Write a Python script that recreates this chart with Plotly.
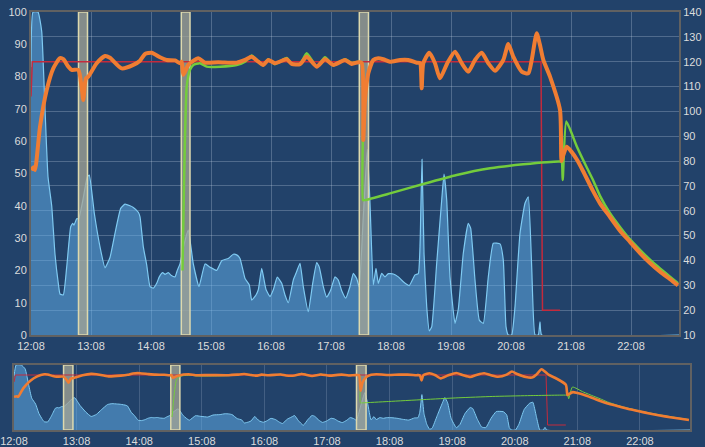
import pandas as pd
import plotly.graph_objects as go

START = pd.Timestamp("2024-01-01 12:08")
END_MIN = 648

# ---- data (minutes after 12:08, values) ----
blue_min = [0, 2, 7, 10.7, 14, 17, 20.7, 24, 27.3, 29, 32.3, 35.7, 39.7, 41.7, 43, 45.7, 47.7,
            52, 56.3, 58.3, 63.3, 69, 74, 79, 84, 89.7, 94, 99, 102.3, 107.3, 109, 112.3, 115.7,
            119, 122.3, 125.7, 128.3, 131.7, 134, 137.3, 140, 144, 146.3, 149, 153, 157.3, 162.3,
            168, 174, 179, 185.7, 190.7, 197.3, 202.3, 205.7, 209, 214, 218.3, 220.7, 225, 227.3,
            230.7, 235, 239, 242.3, 246.3, 250.7, 254, 257.3, 262.3, 265, 269, 272.3, 277.3, 281.7,
            285.7, 288.3, 292.3, 295.7, 299.7, 304, 307.3, 310.7, 314.7, 319, 322.3, 325.7, 328.3,
            332, 336.3, 339, 342.3, 345, 347.3, 350.7, 354, 357.3, 362.3, 367.3, 372.3, 378.3, 384,
            387.3, 389, 391, 393, 395.7, 398.3, 400.7, 405.7, 410.7, 413, 415.7, 419, 424, 427.3,
            432.3, 437.3, 439.7, 444, 448.3, 452.3, 457.3, 462.3, 469, 472.3, 475, 477.3, 480.7,
            484, 489, 494, 497.3, 500.7, 504, 507.3, 509, 510.7, 648]
blue_val = [83, 100, 100, 94, 70, 49, 40, 25, 16, 12.7, 12.4, 21, 33.5, 34.6, 34, 36, 36,
            42, 49, 49.5, 37.7, 27.3, 20.8, 24, 31.5, 39.2, 40.5, 40, 39.5, 38, 36.6, 27.3, 21.7,
            15, 14.5, 16, 18, 19.3, 18.8, 19.3, 18.5, 18, 20, 22, 28, 32.5, 22,
            15, 22, 21, 20, 23, 23.7, 25, 24.8, 23.7, 17.5, 15.5, 10.8, 12.4, 14,
            20.6, 14.1, 11.9, 14, 17.9, 16, 12.4, 10, 17, 19.1, 22.2, 15, 7.2, 16,
            22.4, 21, 15, 11.7, 13.9, 18, 17, 13.7, 11.4, 15, 19.1, 17.5, 14.8,
            35, 57.5, 40.8, 15.5, 20.6, 16, 19.1, 18, 19, 18.9, 18, 16.5, 15.3, 18.6,
            19, 27.3, 54.4, 25.3, 8.8, 1.3, 2.5, 22.2, 41.8, 49.8, 41.8, 18, 3.6, 8,
            25.3, 34.6, 33, 17, 4.6, 3.6, 18, 28.4, 28.2, 23.2, 2.6, 0, 0,
            8.8, 31.5, 40.8, 42.8, 21, 0, 0, 4.1, 0, 0]

orange_min = [0, 2.5, 4, 9, 15.7, 22.3, 29, 32.3, 37.3, 40.7, 47.3, 50.5, 52.3, 54, 55, 57.3,
              65.7, 74, 79, 90.7, 102.3, 109, 114, 120.7, 129, 135.7, 144, 149, 150.7, 152.3,
              157.3, 167.3, 174, 187.3, 205.7, 214, 220.7, 227.3, 232.3, 237.3, 244, 255.7, 260.7,
              269, 275.7, 285.7, 294, 302.3, 314, 320.7, 327.3, 330.7, 332.3, 334, 337.3, 342.3,
              347.3, 352.3, 359, 369, 377.3, 385.7, 389, 390.7, 392.3, 398.3, 404, 409, 416.3,
              424, 430.7, 437.3, 444, 450.7, 457.3, 464, 472.3, 477.3, 482.3, 490.7, 497.3, 500.7,
              505.7, 509, 512.3, 519, 529, 530.5, 532, 535.7, 540, 546, 552, 562, 569, 579, 589,
              599, 609, 619, 629, 639, 647]
orange_val = [76.4, 77.5, 76.4, 93.8, 108.6, 117.3, 121.4, 121, 118, 116.7, 116.7, 110, 104.6,
              111.3, 113.3, 114, 119.4, 122.3, 121.6, 117.3, 118.7, 120.4, 123.1, 123.6, 121.8,
              120.7, 120.5, 119.4, 120, 114.7, 118.7, 121.4, 119.6, 119.8, 119.6, 120.7, 122, 120,
              118.7, 120.7, 119.4, 121, 119.1, 119, 122, 118, 121, 118.7, 120.7, 119.1, 119.8,
              119.5, 88.5, 104.6, 115.3, 120.7, 121.4, 121, 120, 120.7, 120.7, 119.6, 119.4, 109.3,
              119.4, 123.6, 119.4, 113.3, 119.4, 124, 119.4, 116, 120.7, 123.6, 119.4, 116.4,
              120.7, 127.1, 122, 116, 115.3, 120.7, 131.4, 126.7, 120.7, 114, 100.6, 80, 82, 85.8,
              84, 80.5, 76, 68, 63, 57.5, 52, 47.5, 43, 39, 35.5, 32.5, 30]

green_min = [151.5, 153, 155.7, 159, 162.3, 169, 175.7, 189, 205.7, 214, 220.7, 227.3, 232.3,
             237.3, 244, 255.7, 260.7, 269, 275.7, 285.7, 294, 302.3, 314, 320.7, 327.3, 331.3,
             332, 334, 359, 392.3, 425.7, 459, 492.3, 529, 530.8, 531.7, 535.3, 545.7, 555.7,
             562, 569, 579, 589, 599, 609, 619, 629, 639, 647]
green_val = [36, 70, 110, 116.7, 118.7, 119.4, 118, 118, 118.7, 120, 122.5, 120, 118.5, 121,
             119, 121.5, 119, 119, 123.4, 118, 121.8, 118.5, 121, 119.5, 120, 119.5, 64.3, 64.3,
             67, 70.8, 74.4, 77.1, 78.7, 79.8, 79.5, 72.4, 95.9, 86, 77.5, 72.4, 66, 59, 53.5,
             48.5, 44.3, 40.3, 36.8, 33.5, 30.8]

red_min = [0, 1.3, 510, 511.5, 529]
red_val = [106, 120, 120, 20, 20]

band_start = [47.5, 150.3, 328.3]
band_end = [56.5, 159, 337.5]

hour_ticks = list(range(0, 648, 60))

# ---- styling ----
BG = "#22426a"
GRID = "rgba(200,215,235,0.28)"
AXLINE = "#616161"
FONT = dict(family="Liberation Sans, Arial, sans-serif", size=11, color="#dcdcdc")
ORANGE = "#f07d32"
GREEN = "#74cc3c"
RED = "#c42a3c"
BLUE_LINE = "#7fcaf2"
BLUE_FILL = "rgba(100,180,240,0.5)"
BAND_FILL = "rgba(165,165,150,0.75)"
BAND_LINE = "#ddd9ae"


def ts(mins):
    return [START + pd.Timedelta(minutes=float(m)) for m in mins]


fig = go.Figure()


def add_series(xa, ya_left, ya_right, main):
    fig.add_trace(go.Scatter(x=ts(blue_min), y=blue_val, xaxis=xa, yaxis=ya_left, mode="lines",
                             line=dict(color=BLUE_LINE, width=1.2 if main else 1, shape="spline", smoothing=0.4),
                             fill="tozeroy", fillcolor=BLUE_FILL, hoverinfo="skip"))
    for s, e in zip(band_start, band_end):
        fig.add_trace(go.Scatter(x=ts([s, s, e, e, s]), y=[0, 100, 100, 0, 0], xaxis=xa, yaxis=ya_left,
                                 mode="lines", fill="toself", fillcolor=BAND_FILL,
                                 line=dict(color=BAND_LINE, width=1.5), hoverinfo="skip"))
    fig.add_trace(go.Scatter(x=ts(red_min), y=red_val, xaxis=xa, yaxis=ya_right, mode="lines",
                             line=dict(color=RED, width=1.5 if main else 1), hoverinfo="skip"))
    fig.add_trace(go.Scatter(x=ts(green_min), y=green_val, xaxis=xa, yaxis=ya_right, mode="lines",
                             line=dict(color=GREEN, width=2.5 if main else 1, shape="spline", smoothing=0.5),
                             hoverinfo="skip"))
    fig.add_trace(go.Scatter(x=ts(orange_min), y=orange_val, xaxis=xa, yaxis=ya_right, mode="lines",
                             line=dict(color=ORANGE, width=4 if main else 2.6, shape="spline", smoothing=0.6),
                             hoverinfo="skip"))


add_series("x", "y", "y2", True)
add_series("x2", "y3", "y4", False)

xrange = [START, START + pd.Timedelta(minutes=END_MIN)]
tickvals = ts(hour_ticks)

fig.update_layout(
    width=705, height=447,
    margin=dict(l=0, r=0, t=0, b=0, autoexpand=False),
    paper_bgcolor=BG, plot_bgcolor=BG,
    showlegend=False, font=FONT,
    xaxis=dict(domain=[31 / 705, 679 / 705], anchor="y", type="date", range=xrange,
               tickvals=tickvals, tickformat="%H:%M", showgrid=True, gridcolor=GRID, gridwidth=1,
               showline=True, linecolor=AXLINE, linewidth=2, mirror=True, ticks="", zeroline=False,
               tickfont=FONT, automargin=False),
    yaxis=dict(domain=[(447 - 335) / 447, (447 - 12) / 447], anchor="x", range=[0, 100], dtick=10,
               showgrid=False, showline=True, linecolor=AXLINE, linewidth=2, zeroline=False,
               ticks="", tickfont=FONT, automargin=False),
    yaxis2=dict(overlaying="y", side="right", anchor="x", range=[10, 140], dtick=10,
                showgrid=True, gridcolor=GRID, showline=True, linecolor=AXLINE, linewidth=2,
                zeroline=False, ticks="", tickfont=FONT, automargin=False),
    xaxis2=dict(domain=[14 / 705, 690 / 705], anchor="y3", type="date", range=xrange,
                tickvals=tickvals, tickformat="%H:%M", showgrid=True, gridcolor="rgba(200,215,235,0.2)",
                showline=True, linecolor=AXLINE, linewidth=2, mirror=True, ticks="", zeroline=False,
                tickfont=FONT, automargin=False),
    yaxis3=dict(domain=[17 / 447, 82 / 447], anchor="x2", range=[0, 100], showgrid=False,
                showticklabels=False, showline=True, linecolor=AXLINE, linewidth=2, mirror=True,
                zeroline=False, ticks="", automargin=False),
    yaxis4=dict(overlaying="y3", anchor="x2", range=[10, 140], showgrid=False,
                showticklabels=False, showline=False, zeroline=False, ticks="", automargin=False),
)

fig.write_html("out.html")
